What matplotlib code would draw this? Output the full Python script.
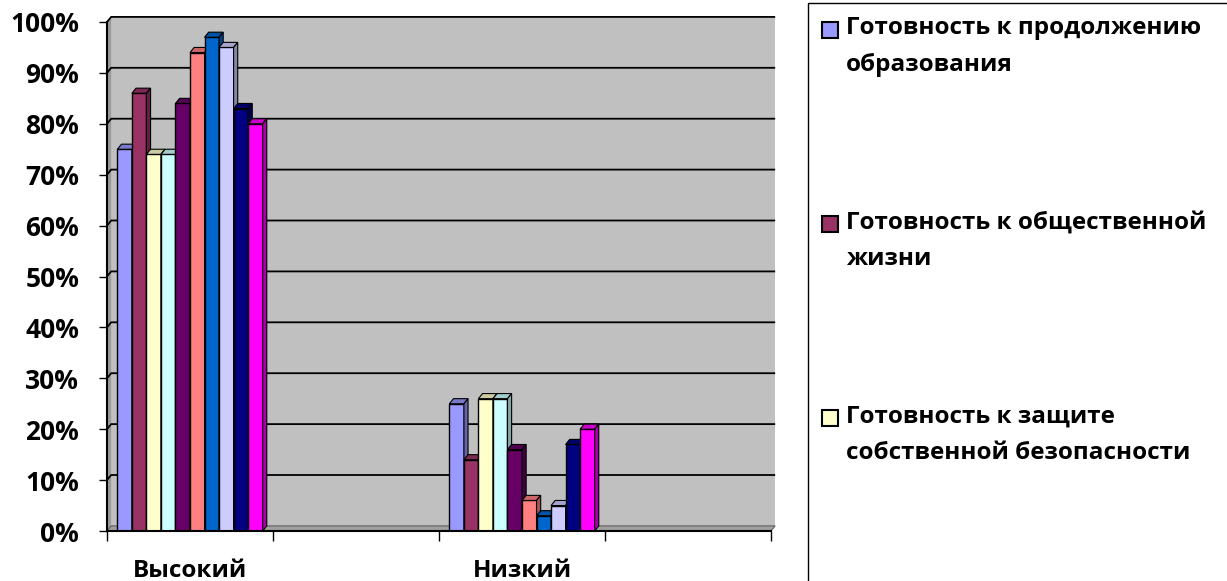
import numpy as np
import matplotlib
matplotlib.use('Agg')
import matplotlib.pyplot as plt
from matplotlib.patches import Polygon, Rectangle
from matplotlib.colors import to_rgb

plt.rcParams['font.family'] = ['Open Sans', 'DejaVu Sans']
plt.rcParams['font.weight'] = 'bold'

# categories (slots 2 and 4 are empty in the original chart)
categories = ['Высокий', '', 'Низкий', '']
high_vals = [75, 86, 74, 74, 84, 94, 97, 95, 83, 80]
low_vals = [25, 14, 26, 26, 16, 6, 3, 5, 17, 20]
series_colors = ['#9999FF', '#993366', '#FFFFCC', '#CCFFFF', '#660066',
                 '#FF8080', '#0066CC', '#CCCCFF', '#000080', '#FF00FF']
legend_names = ['Готовность к продолжению\nобразования',
                'Готовность к общественной\nжизни',
                'Готовность к защите\nсобственной безопасности']
y_ticks = list(range(0, 101, 10))

W, H = 1227, 581
fig = plt.figure(figsize=(W / 100, H / 100), dpi=100)
ax = fig.add_axes([107 / W, 50 / H, 664 / W, 509 / H])
ax.set_xlim(-0.5, 3.5)
ax.set_ylim(0, 100)
ax.set_facecolor('none')

# depth of the pseudo 3d look (data units)
dx, dy = 0.025, 1.0
x0, x1 = -0.5, 3.5

def shade(c, f):
    r, g, b = to_rgb(c)
    return (r * f, g * f, b * f)

# back wall, side wall, floor
ax.add_patch(Rectangle((x0 + dx, dy), x1 - x0, 100, facecolor='#C0C0C0',
                       edgecolor='none', zorder=0, clip_on=False))
ax.add_patch(Polygon([(x0, 0), (x0 + dx, dy), (x0 + dx, 100 + dy), (x0, 100)],
                     facecolor='#9A9A9A', edgecolor='none', zorder=0, clip_on=False))
ax.add_patch(Polygon([(x0, 0), (x1, 0), (x1 + dx, dy), (x0 + dx, dy)],
                     facecolor='#A0A0A0', edgecolor='#606060', lw=0.8, zorder=0.5, clip_on=False))
for v in y_ticks[1:]:
    ax.plot([x0, x0 + dx, x1 + dx], [v, v + dy, v + dy], color='black', lw=1.3,
            zorder=0.6, clip_on=False, solid_capstyle='butt')

# bars
n = len(high_vals)
bw = 0.0875
slots = [0, 2]
for c, vals in zip(slots, [high_vals, low_vals]):
    for i, (v, col) in enumerate(zip(vals, series_colors)):
        left = c - n * bw / 2 + i * bw
        z = 2 + i * 0.01
        ax.bar(left, v, width=bw, align='edge', color=col, edgecolor='black',
               linewidth=1, zorder=z)
        ax.add_patch(Polygon([(left, v), (left + dx, v + dy), (left + bw + dx, v + dy), (left + bw, v)],
                             facecolor=shade(col, 0.8), edgecolor='black', lw=0.8,
                             zorder=z, clip_on=False))
        ax.add_patch(Polygon([(left + bw, 0), (left + bw + dx, dy), (left + bw + dx, v + dy), (left + bw, v)],
                             facecolor=shade(col, 0.65), edgecolor='black', lw=0.8,
                             zorder=z, clip_on=False))

# axes
for s in ['top', 'right']:
    ax.spines[s].set_visible(False)
ax.spines['left'].set_linewidth(1.5)
ax.spines['bottom'].set_linewidth(1.5)
ax.spines['left'].set_zorder(3)
ax.spines['bottom'].set_zorder(3)
ax.set_yticks(y_ticks)
ax.set_yticklabels([f'{t}%' for t in y_ticks], fontsize=19, fontweight='bold')
ax.tick_params(axis='y', length=6, width=1, pad=14)
ax.set_xticks(np.arange(-0.5, 4, 1))
ax.set_xticklabels([])
ax.tick_params(axis='x', which='major', length=7, width=1)
ax.set_xticks(range(len(categories)), minor=True)
ax.set_xticklabels(categories, minor=True, fontsize=17.5, fontweight='bold')
ax.tick_params(axis='x', which='minor', length=0, pad=20)

# legend box, cut off at the figure edge like the original
fig.patches.append(Rectangle((808 / W, -0.1), 1, 1.1 - 3 / H, transform=fig.transFigure,
                             facecolor='white', edgecolor='black', lw=1))
line_step = 34
for i, (name, col) in enumerate(zip(legend_names, series_colors)):
    base = 37 + i * 194
    fig.patches.append(Rectangle((822 / W, 1 - (base + 1) / H), 16 / W, 16 / H,
                                 transform=fig.transFigure, facecolor=col,
                                 edgecolor='black', lw=1.5))
    # baseline alignment uses the last line of a multi-line text
    fig.text(846 / W, 1 - (base + line_step) / H, name, fontsize=17.5, fontweight='bold',
             va='baseline', ha='left', linespacing=1.7)

fig.savefig('out.png', dpi=100)
